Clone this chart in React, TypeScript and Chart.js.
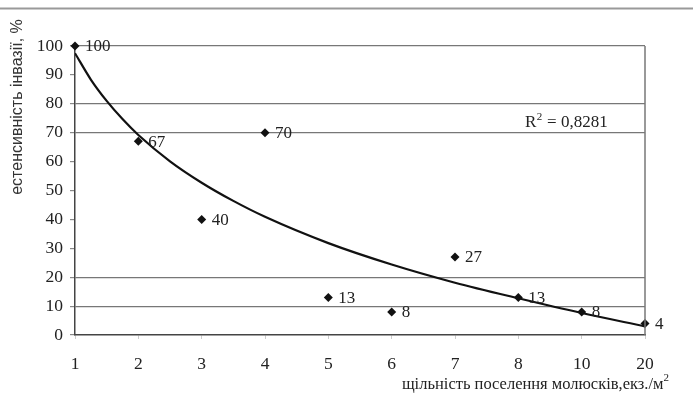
import React, { useEffect, useRef } from "react";
import { Chart, registerables } from "chart.js";

Chart.register(...registerables);

// Category labels of the x axis (density of molluscs, ind./m2)
const categories = ["1", "2", "3", "4", "5", "6", "7", "8", "10", "20"];
// Invasion extensity, %
const invasion = [100, 67, 40, 70, 13, 8, 27, 13, 8, 4];
// Trend line (position on category axis and value)
const trendPos = [1, 1.25, 1.5, 1.75, 2, 2.5, 3, 3.5, 4, 5, 6, 7, 8, 9, 10];
const trendVal = [97.5, 88.4, 81, 74.7, 69.2, 60.1, 52.7, 46.4, 40.9, 31.8, 24.4, 18.1, 12.7, 7.6, 3];
// Gridlines visible in the reference
const gridValues = [10, 20, 70, 80, 100];
const rSquared = "0,8281";
const yTitle = "естенсивність інвазії, %";
const xTitle = "щільність поселення молюсків,екз./м";

const SERIF = "'Liberation Serif', 'DejaVu Serif', serif";
const SANS = "'Liberation Sans', Arial, sans-serif";

const decorPlugin = {
  id: "decor",
  afterDatasetsDraw(chart: any) {
    const ctx = chart.ctx as CanvasRenderingContext2D;
    const area = chart.chartArea;
    ctx.save();
    // right border of plot area
    ctx.strokeStyle = "#777";
    ctx.lineWidth = 1.5;
    ctx.beginPath();
    ctx.moveTo(area.right, area.top);
    ctx.lineTo(area.right, area.bottom);
    ctx.stroke();
    // top rule of the page
    ctx.strokeStyle = "#999";
    ctx.lineWidth = 2;
    ctx.beginPath();
    ctx.moveTo(0, 8.5);
    ctx.lineTo(chart.width, 8.5);
    ctx.stroke();

    // data labels
    const meta = chart.getDatasetMeta(1);
    ctx.fillStyle = "#222";
    ctx.font = `17px ${SERIF}`;
    ctx.textAlign = "left";
    ctx.textBaseline = "middle";
    meta.data.forEach((pt: any, i: number) => {
      ctx.fillText(String(invasion[i]), pt.x + 10, pt.y + 1);
    });

    // R^2
    ctx.font = `17px ${SERIF}`;
    let x = 525;
    const y = 123;
    ctx.fillText("R", x, y);
    x += ctx.measureText("R").width;
    ctx.font = `11px ${SERIF}`;
    ctx.fillText("2", x + 0.5, y - 6);
    x += ctx.measureText("2").width + 1;
    ctx.font = `17px ${SERIF}`;
    ctx.fillText(" = " + rSquared, x, y);

    // x title
    ctx.textAlign = "right";
    ctx.textBaseline = "alphabetic";
    ctx.font = `11px ${SERIF}`;
    const supW = ctx.measureText("2").width;
    ctx.fillText("2", 669, 381);
    ctx.font = `16.5px ${SERIF}`;
    ctx.fillText(xTitle, 669 - supW, 389);

    // y title
    ctx.translate(18, 107);
    ctx.rotate(-Math.PI / 2);
    ctx.textAlign = "center";
    ctx.textBaseline = "middle";
    ctx.font = `16px ${SANS}`;
    ctx.fillStyle = "#333";
    ctx.fillText(yTitle, 0, 0);
    ctx.restore();
  },
};

export default function App() {
  const ref = useRef<HTMLCanvasElement>(null);
  useEffect(() => {
    document.body.style.margin = "0";
    const canvas = ref.current!;
    const chart = new Chart(canvas, {
      type: "scatter",
      data: {
        datasets: [
          {
            type: "line",
            data: trendPos.map((p, i) => ({ x: p, y: trendVal[i] })),
            borderColor: "#111",
            borderWidth: 2.2,
            pointRadius: 0,
            cubicInterpolationMode: "monotone",
            fill: false,
          } as any,
          {
            data: invasion.map((v, i) => ({ x: i + 1, y: v })),
            pointStyle: "rectRot",
            pointRadius: 4.5,
            backgroundColor: "#111",
            borderColor: "#111",
            borderWidth: 0,
            clip: false,
          } as any,
        ],
      },
      options: {
        animation: false,
        responsive: false,
        devicePixelRatio: 1,
        layout: { padding: { top: 46, right: 48, left: 0, bottom: 0 } },
        plugins: { legend: { display: false }, tooltip: { enabled: false } },
        scales: {
          x: {
            type: "linear",
            min: 1,
            max: 10,
            afterFit: (s: any) => {
              s.height = 61;
            },
            ticks: {
              stepSize: 1,
              padding: 15,
              color: "#222",
              font: { family: SERIF, size: 17.5 },
              callback: (v: any) => categories[Number(v) - 1] ?? "",
            },
            grid: { drawOnChartArea: false, drawTicks: true, tickLength: 4, tickColor: "#ccc" },
            border: { display: true, color: "#444", width: 1.5 },
          },
          y: {
            min: 0,
            max: 100,
            afterFit: (s: any) => {
              s.width = 75;
            },
            ticks: {
              stepSize: 10,
              padding: 7,
              color: "#222",
              font: { family: SERIF, size: 17.5 },
            },
            grid: {
              color: (c: any) => (gridValues.includes(c.tick?.value) ? "#777" : "rgba(0,0,0,0)"),
              lineWidth: 1.2,
              drawTicks: true,
              tickLength: 5,
              tickColor: "#888",
            },
            border: { display: true, color: "#444", width: 1.5 },
          },
        },
      } as any,
      plugins: [decorPlugin],
    });
    return () => chart.destroy();
  }, []);
  return <canvas ref={ref} width={693} height={396} style={{ display: "block" }} />;
}
